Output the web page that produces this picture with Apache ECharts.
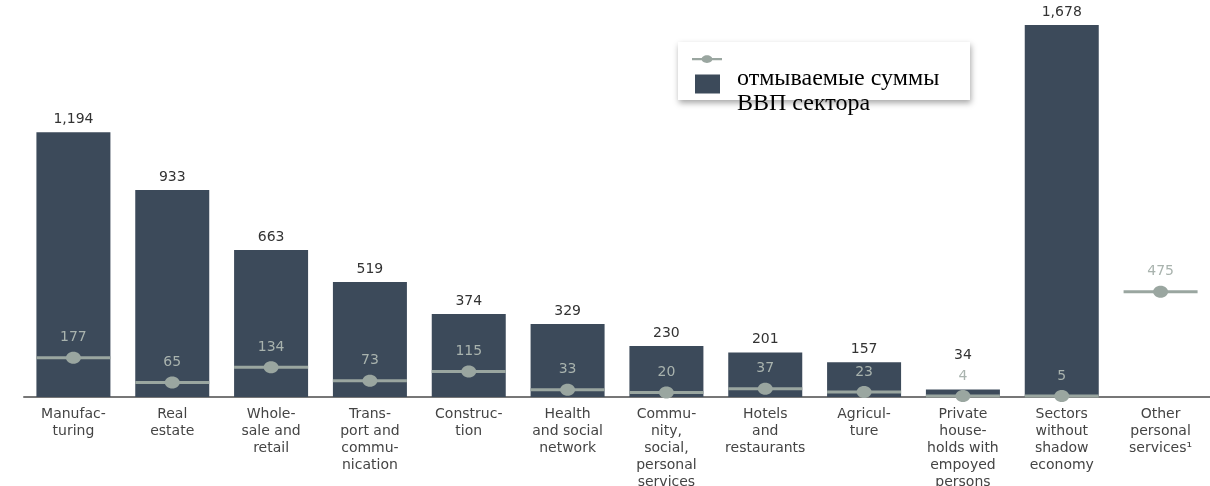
<!DOCTYPE html>
<html>
<head>
<meta charset="utf-8">
<script src="https://cdn.jsdelivr.net/npm/echarts@6/dist/echarts.min.js"></script>
<style>
html,body{margin:0;padding:0;background:#fff;}
#chart{width:1210px;height:486px;}
</style>
</head>
<body>
<div id="chart"></div>
<script>
var categories = ['Manufac-\nturing', 'Real\nestate', 'Whole-\nsale and\nretail', 'Trans-\nport and\ncommu-\nnication', 'Construc-\ntion', 'Health\nand social\nnetwork', 'Commu-\nnity,\nsocial,\npersonal\nservices', 'Hotels\nand\nrestaurants', 'Agricul-\nture', 'Private\nhouse-\nholds with\nempoyed\npersons', 'Sectors\nwithout\nshadow\neconomy', 'Other\npersonal\nservices\u00B9'];
var gdpValues = [1194, 933, 663, 519, 374, 329, 230, 201, 157, 34, 1678, null];
var launderedValues = [177, 65, 134, 73, 115, 33, 20, 37, 23, 4, 5, 475];
var seriesNames = ['отмываемые суммы', 'ВВП сектора'];

var barColor = '#3c4a5a';
var markColor = '#9aa6a0';

var chart = echarts.init(document.getElementById('chart'));

// legend icons drawn in a 40x20 box (extra right margin gives the text gap)
var markerIcon = 'path://M0,0h0.01v0.01h-0.01z M39.99,19.99h0.01v0.01h-0.01z M0,9h30v2.2h-30z ' +
  'M9.5,10.1 C9.5,8 12,6.2 15,6.2 C18,6.2 20.5,8 20.5,10.1 C20.5,12.2 18,14 15,14 C12,14 9.5,12.2 9.5,10.1z';
var squareIcon = 'path://M0,0h0.01v0.01h-0.01z M39.99,19.99h0.01v0.01h-0.01z M3,0.5h25v19h-25z';

var barData = gdpValues.map(function (v, i) {
  var close = v != null && launderedValues[i] != null && (v - launderedValues[i]) < 60;
  return {value: v, label: {distance: close ? 27 : 6}};
});

chart.setOption({
  animation: false,
  graphic: [{
    type: 'rect',
    z: 1,
    shape: {x: 678, y: 42, width: 292, height: 58},
    style: {fill: '#fff', shadowBlur: 6, shadowColor: 'rgba(0,0,0,0.35)', shadowOffsetY: 3, shadowOffsetX: 1}
  }],
  legend: {
    orient: 'vertical',
    left: 692,
    top: 27,
    padding: 0,
    itemWidth: 40,
    itemHeight: 20,
    itemGap: -39,
    selectedMode: false,
    z: 5,
    formatter: function (name) { return '\n\n' + name; },
    textStyle: {fontFamily: 'Liberation Serif', fontSize: 24, lineHeight: 20, color: '#000'},
    data: [
      {name: seriesNames[0], icon: markerIcon, itemStyle: {color: markColor}},
      {name: seriesNames[1], icon: squareIcon, itemStyle: {color: barColor}}
    ]
  },
  grid: {left: 24, right: 0, top: 20, bottom: 89, containLabel: false, outerBoundsMode: 'none'},
  xAxis: {
    type: 'category',
    data: categories,
    axisLine: {show: true, lineStyle: {color: '#777', width: 2}},
    axisTick: {show: false},
    axisLabel: {interval: 0, margin: 9, fontFamily: 'DejaVu Sans', fontSize: 14, lineHeight: 17, color: '#444'}
  },
  yAxis: {
    type: 'value', min: 0, max: 1700, show: false, splitLine: {show: false}
  },
  series: [
    {
      name: seriesNames[1],
      type: 'bar',
      data: barData,
      barWidth: 74,
      itemStyle: {color: barColor},
      label: {
        show: true, position: 'top', distance: 6,
        fontFamily: 'DejaVu Sans', fontSize: 14, color: '#333',
        formatter: function (p) { return p.value == null ? '' : p.value.toLocaleString('en-US'); }
      },
      z: 2
    },
    {
      name: seriesNames[0],
      type: 'custom',
      z: 3,
      itemStyle: {color: markColor},
      data: launderedValues.map(function (v, i) { return [i, v]; }),
      renderItem: function (params, api) {
        var pt = api.coord([api.value(0), api.value(1)]);
        var w = 74;
        return {
          type: 'group',
          children: [
            {type: 'line', shape: {x1: pt[0] - w / 2, y1: pt[1], x2: pt[0] + w / 2, y2: pt[1]}, style: {stroke: markColor, lineWidth: 3}},
            {type: 'ellipse', shape: {cx: pt[0], cy: pt[1], rx: 7.5, ry: 6}, style: {fill: markColor}},
            {type: 'text', x: pt[0], y: pt[1] - 20, style: {text: String(api.value(1)), align: 'center', verticalAlign: 'middle', fill: '#a9b3ae', fontFamily: 'DejaVu Sans', fontSize: 14}}
          ]
        };
      }
    }
  ]
});
</script>
</body>
</html>
